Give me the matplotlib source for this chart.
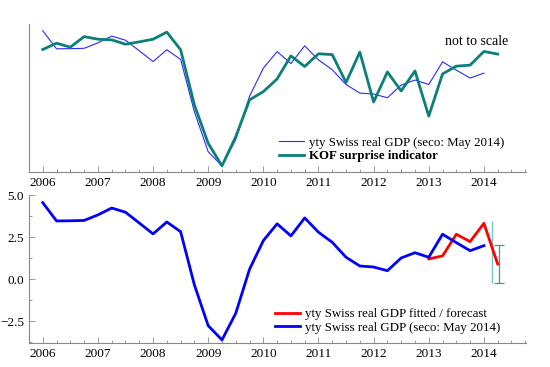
import matplotlib.pyplot as plt
import numpy as np
from matplotlib.ticker import MultipleLocator

plt.rcParams['font.family'] = ['Liberation Serif', 'DejaVu Serif']

# quarterly data, 2006Q1 .. 2014Q2
quarters = np.arange(2006.0, 2014.3, 0.25)

gdp = [4.56, 3.47, 3.48, 3.50, 3.83, 4.24, 3.99, 3.35, 2.70, 3.41, 2.83, -0.34,
       -2.76, -3.61, -2.02, 0.60, 2.30, 3.30, 2.58, 3.65, 2.80, 2.20, 1.31, 0.79,
       0.73, 0.51, 1.27, 1.58, 1.31, 2.68, 2.18, 1.70, 2.00]

kof = [3.43, 3.81, 3.57, 4.21, 4.05, 4.01, 3.75, 3.89, 4.05, 4.48, 3.41, 0.07,
       -2.25, -3.61, -1.85, 0.38, 0.88, 1.65, 3.04, 2.40, 3.17, 3.12, 1.43, 3.27,
       0.25, 2.07, 0.92, 2.13, -0.60, 1.95, 2.42, 2.48, 3.31, 3.15]

fit_q = [2013.0, 2013.25, 2013.5, 2013.75, 2014.0, 2014.25]
fitted = [1.21, 1.39, 2.68, 2.24, 3.33, 0.91]

# forecast bands
band_x = [2014.14, 2014.27]
band_lo = [-0.2, -0.2]
band_hi = [3.47, 2.02]

years = list(range(2006, 2015))
grey = '#888888'

fig = plt.figure(figsize=(5.5, 3.67), dpi=100)
ax1 = fig.add_axes([0.0527, 0.532, 0.9033, 0.403])
ax2 = fig.add_axes([0.0527, 0.065, 0.9033, 0.403])


def style(ax):
    for s in ['top', 'right']:
        ax.spines[s].set_visible(False)
    for s in ['left', 'bottom']:
        ax.spines[s].set_color(grey)
        ax.spines[s].set_linewidth(0.8)
    ax.set_xlim(2005.75, 2014.76)
    ax.set_xticks(years)
    ax.xaxis.set_minor_locator(MultipleLocator(0.25))
    ax.tick_params(axis='both', which='both', direction='in', color=grey,
                   labelsize=9.5, width=0.6)
    ax.tick_params(which='major', length=4)
    ax.tick_params(which='minor', length=2)


# top panel
style(ax1)
ax1.plot(quarters[:len(gdp)], gdp, color='#2a2aff', lw=0.8,
         label='yty Swiss real GDP (seco: May 2014)')
ax1.plot(quarters[:len(kof)], kof, color='#0b7f78', lw=2.0,
         label='KOF surprise indicator')
ax1.set_ylim(-3.97, 4.98)
ax1.set_yticks([])
ax1.text(2013.3, 3.91, 'not to scale', fontsize=10, va='center')
leg1 = ax1.legend(loc='lower right', bbox_to_anchor=(0.968, 0.03), frameon=False,
                  fontsize=9.3, handlelength=1.9, handletextpad=0.45,
                  labelspacing=0.1, borderaxespad=0)
leg1.get_texts()[1].set_fontweight('bold')

# bottom panel
style(ax2)
ax2.vlines(band_x[0], band_lo[0], band_hi[0], color='#7cc4c4', lw=1.0)
ax2.errorbar(band_x[1], (band_hi[1] + band_lo[1]) / 2,
             yerr=(band_hi[1] - band_lo[1]) / 2, fmt='none',
             ecolor='#3a9a94', elinewidth=0.9, capsize=3.5, capthick=0.9)
ax2.plot(fit_q, fitted, color='#ff0000', lw=2.0,
         label='yty Swiss real GDP fitted / forecast')
ax2.plot(quarters[:len(gdp)], gdp, color='#0000ff', lw=2.0,
         label='yty Swiss real GDP (seco: May 2014)')
ax2.set_ylim(-3.8, 5.0)
ax2.set_yticks([-2.5, 0.0, 2.5, 5.0])
ax2.set_yticklabels(['\u22122.5', '0.0', '2.5', '5.0'])
ax2.yaxis.set_minor_locator(MultipleLocator(1.25))
ax2.legend(loc='lower right', bbox_to_anchor=(0.96, 0.03), frameon=False,
           fontsize=9.3, handlelength=1.9, handletextpad=0.45,
           labelspacing=0.1, borderaxespad=0)

fig.savefig('out.png', dpi=100)
